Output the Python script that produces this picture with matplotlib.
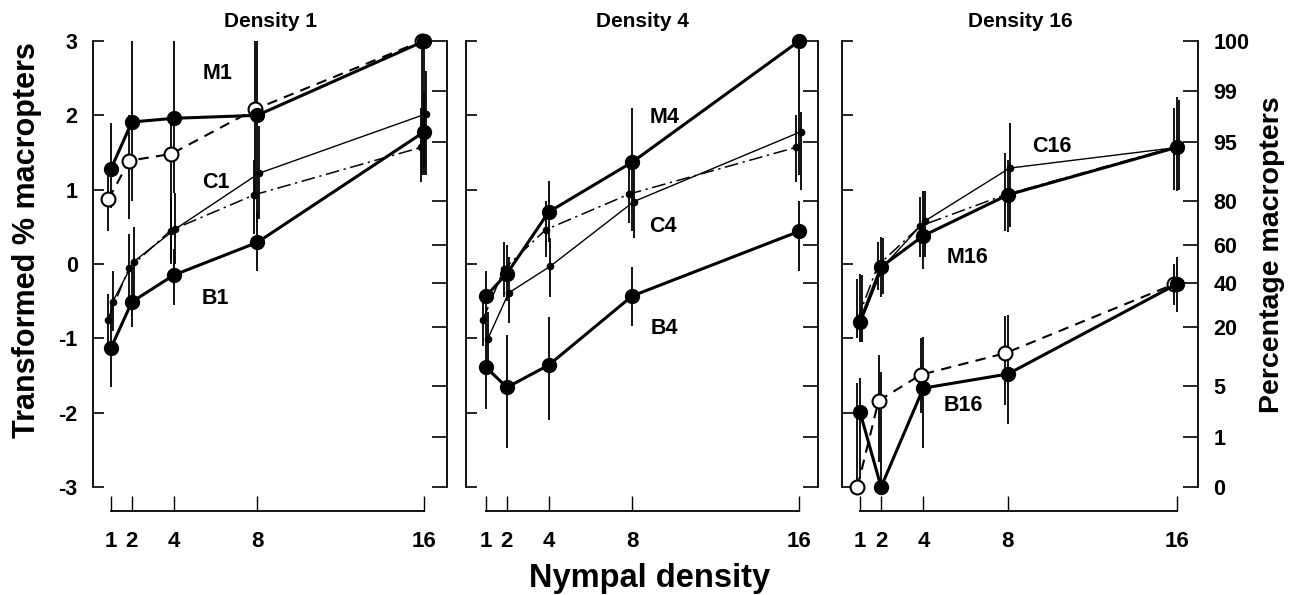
import matplotlib
matplotlib.use('Agg')
import matplotlib.pyplot as plt
from statistics import NormalDist

plt.rcParams['font.family'] = ['Liberation Sans', 'DejaVu Sans']
plt.rcParams['font.weight'] = 'bold'

# ---------------- data ----------------
density_x = [1, 2, 4, 8, 16]
panel_titles = ['Density 1', 'Density 4', 'Density 16']
left_ticks = [-3, -2, -1, 0, 1, 2, 3]
pct_ticks = [0, 1, 5, 20, 40, 60, 80, 95, 99, 100]

# Density 1 panel
m1_filled = [1.28, 1.91, 1.96, 2.00, 3.00]
m1_filled_lo = [0.75, 0.85, 0.95, 0.55, 1.30]
m1_filled_hi = [1.90, 3.00, 3.00, 3.00, 3.00]
m1_open = [0.87, 1.39, 1.48, 2.08, 3.00]
m1_open_lo = [0.45, 0.60, 0.05, 0.90, 1.20]
m1_open_hi = [1.30, 2.00, 1.95, 3.00, 3.00]
c1_thin = [-0.51, 0.03, 0.47, 1.22, 2.02]
c1_thin_lo = [-0.90, -0.50, 0.00, 0.60, 1.20]
c1_thin_hi = [-0.10, 0.50, 0.95, 1.85, 2.60]
c1_dashdot = [-0.75, -0.06, 0.45, 0.93, 1.57]
c1_dashdot_lo = [-1.10, -0.45, 0.00, 0.40, 1.10]
c1_dashdot_hi = [-0.40, 0.40, 0.90, 1.40, 2.10]
b1_filled = [-1.13, -0.51, -0.15, 0.29, 1.78]
b1_filled_lo = [-1.65, -0.85, -0.55, -0.10, 1.20]
b1_filled_hi = [-0.55, -0.10, 0.20, 0.70, 2.30]

# Density 4 panel
m4_filled = [-0.43, -0.13, 0.70, 1.37, 3.00]
m4_filled_lo = [-0.75, -0.50, 0.30, 0.45, 1.20]
m4_filled_hi = [-0.10, 0.25, 1.12, 2.10, 3.00]
c4_thin = [-1.01, -0.39, -0.03, 0.84, 1.78]
c4_thin_lo = [-1.35, -0.80, -0.45, 0.35, 1.00]
c4_thin_hi = [-0.65, 0.10, 0.35, 1.30, 2.05]
c4_dashdot = [-0.75, -0.07, 0.46, 0.94, 1.57]
c4_dashdot_lo = [-1.10, -0.45, 0.10, 0.55, 1.10]
c4_dashdot_hi = [-0.40, 0.30, 0.85, 1.35, 2.00]
b4_filled = [-1.39, -1.66, -1.36, -0.43, 0.44]
b4_filled_lo = [-1.95, -2.48, -2.10, -0.83, -0.10]
b4_filled_hi = [-0.80, -0.96, -0.71, -0.04, 0.85]

# Density 16 panel
c16_thin = [-0.76, -0.04, 0.58, 1.29, 1.57]
c16_thin_lo = [-1.05, -0.40, 0.10, 0.50, 1.00]
c16_thin_hi = [-0.15, 0.35, 0.98, 1.90, 2.20]
c16_dashdot = [-0.77, -0.02, 0.51, 0.93, 1.57]
c16_dashdot_lo = [-1.00, -0.35, 0.10, 0.45, 1.00]
c16_dashdot_hi = [-0.20, 0.30, 0.90, 1.50, 2.10]
m16_filled = [-0.78, -0.04, 0.38, 0.93, 1.57]
m16_filled_lo = [-1.05, -0.44, -0.07, 0.43, 0.98]
m16_filled_hi = [-0.13, 0.36, 0.98, 1.40, 2.24]
b16_filled = [-1.99, -3.00, -1.67, -1.48, -0.27]
b16_filled_lo = [-2.89, -3.00, -2.48, -2.15, -0.65]
b16_filled_hi = [-1.54, -1.45, -0.98, -0.69, 0.09]
b16_open = [-3.00, -1.84, -1.49, -1.20, -0.27]
b16_open_lo = [-3.00, -2.66, -2.00, -1.90, -0.55]
b16_open_hi = [-1.60, -1.23, -1.00, -0.70, 0.00]

panel_series = [
    [('open', m1_open, m1_open_lo, m1_open_hi),
     ('dashdot', c1_dashdot, c1_dashdot_lo, c1_dashdot_hi),
     ('thin', c1_thin, c1_thin_lo, c1_thin_hi),
     ('filled', b1_filled, b1_filled_lo, b1_filled_hi),
     ('filled', m1_filled, m1_filled_lo, m1_filled_hi)],
    [('dashdot', c4_dashdot, c4_dashdot_lo, c4_dashdot_hi),
     ('thin', c4_thin, c4_thin_lo, c4_thin_hi),
     ('filled', b4_filled, b4_filled_lo, b4_filled_hi),
     ('filled', m4_filled, m4_filled_lo, m4_filled_hi)],
    [('dashdot', c16_dashdot, c16_dashdot_lo, c16_dashdot_hi),
     ('thin', c16_thin, c16_thin_lo, c16_thin_hi),
     ('filled', m16_filled, m16_filled_lo, m16_filled_hi),
     ('open', b16_open, b16_open_lo, b16_open_hi),
     ('filled', b16_filled, b16_filled_lo, b16_filled_hi)],
]

panel_labels = [
    [('M1', 6.1, 2.56), ('C1', 6.0, 1.10), ('B1', 6.0, -0.47)],
    [('M4', 9.55, 1.97), ('C4', 9.45, 0.50), ('B4', 9.55, -0.87)],
    [('C16', 10.1, 1.58), ('M16', 6.1, 0.09), ('B16', 5.9, -1.90)],
]

# ---------------- style / layout ----------------
styles = {
    'filled': dict(color='black', lw=2.2, ls='-', marker='o', ms=10,
                   mfc='black', mec='black', dx=0.0),
    'open': dict(color='black', lw=1.5, ls=(0, (5, 3.5)), marker='o', ms=10,
                 mfc='white', mec='black', mew=1.5, dx=-0.12),
    'thin': dict(color='black', lw=1.0, ls='-', marker='o', ms=4.5,
                 mfc='black', mec='black', dx=0.08),
    'dashdot': dict(color='black', lw=1.1, ls=(0, (9, 3, 1.5, 3)), marker='o',
                    ms=4.5, mfc='black', mec='black', dx=-0.15),
}

axes_rects = [
    [93 / 1303, 1 - 487 / 595, 354 / 1303, 446 / 595],
    [466 / 1303, 1 - 487 / 595, 352 / 1303, 446 / 595],
    [842 / 1303, 1 - 487 / 595, 356 / 1303, 446 / 595],
]
xlims = [(0.14, 17.08), (0.04, 16.9), (0.15, 17.0)]

nd = NormalDist()
def probit(p):
    if p <= 0:
        return -3.0
    if p >= 100:
        return 3.0
    return nd.inv_cdf(p / 100.0)
pct_pos = [probit(p) for p in pct_ticks]

fig = plt.figure(figsize=(13.03, 5.95), dpi=100)

for i in range(3):
    ax = fig.add_axes(axes_rects[i])
    ax.set_xlim(*xlims[i])
    ax.set_ylim(-3, 3)
    ax.patch.set_alpha(0)

    for kind, yv, lo, hi in panel_series[i]:
        st = styles[kind]
        xs = [x + st['dx'] for x in density_x]
        for x, l, h in zip(xs, lo, hi):
            ax.plot([x, x], [l, h], color='black', lw=1.3, clip_on=False,
                    zorder=2, solid_capstyle='butt')
        kw = {k: v for k, v in st.items() if k != 'dx'}
        ax.plot(xs, yv, clip_on=False, zorder=3, **kw)

    for txt, lx, ly in panel_labels[i]:
        ax.text(lx, ly, txt, fontsize=15.5, fontweight='bold', ha='center',
                va='center')

    # spines
    ax.spines['top'].set_visible(False)
    ax.spines['right'].set_visible(False)
    ax.spines['left'].set_bounds(-3, 3)
    ax.spines['left'].set_linewidth(1.3)
    ax.spines['bottom'].set_position(('outward', 17))
    ax.spines['bottom'].set_bounds(1, 16)
    ax.spines['bottom'].set_linewidth(1.3)

    ax.set_yticks(left_ticks)
    ax.set_xticks(density_x)
    ax.set_xticklabels([str(v) for v in density_x])
    ax.tick_params(axis='y', direction='in', length=8, width=1.2,
                   labelsize=15.5, pad=11)
    ax.tick_params(axis='x', direction='in', length=11, width=1.0,
                   labelsize=16, pad=15)
    if i == 0:
        ax.set_yticklabels([str(v) for v in left_ticks])
    else:
        ax.set_yticklabels([])
    for lab in ax.get_xticklabels() + ax.get_yticklabels():
        lab.set_fontweight('bold')

    ax.set_title(panel_titles[i], fontsize=15, fontweight='bold', pad=10)

    # right (percentage) axis
    ax2 = ax.twinx()
    ax2.set_ylim(-3, 3)
    for s in ['top', 'left', 'bottom']:
        ax2.spines[s].set_visible(False)
    ax2.spines['right'].set_bounds(-3, 3)
    ax2.spines['right'].set_linewidth(1.3)
    ax2.set_yticks(pct_pos)
    ax2.tick_params(axis='y', direction='in', length=11, width=1.2,
                    labelsize=15.5, pad=11)
    if i == 2:
        ax2.set_yticklabels([str(p) for p in pct_ticks])
        for lab in ax2.get_yticklabels():
            lab.set_fontweight('bold')
    else:
        ax2.set_yticklabels([])

fig.text(27 / 1303, 1 - 240 / 595, 'Transformed % macropters', rotation=90,
         ha='center', va='center', fontsize=22, fontweight='bold')
fig.text(1272 / 1303, 1 - 255 / 595, 'Percentage macropters', rotation=90,
         ha='center', va='center', fontsize=20.5, fontweight='bold')
fig.text(650 / 1303, 1 - 578 / 595, 'Nympal density', ha='center',
         va='center', fontsize=23.5, fontweight='bold')

fig.savefig('out.png', dpi=100)
